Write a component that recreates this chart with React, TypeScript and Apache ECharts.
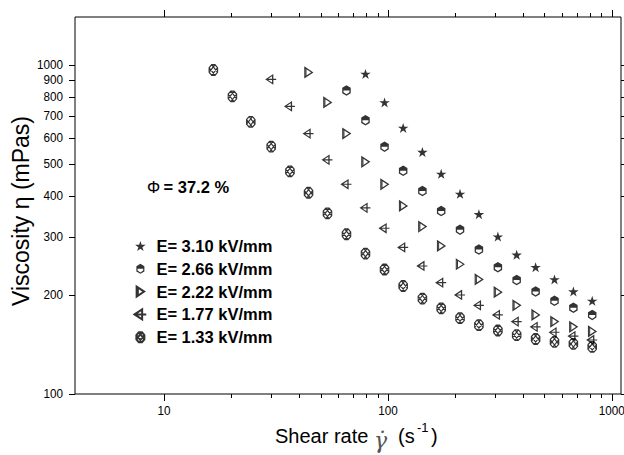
import React, { useEffect, useRef } from "react";
import * as echarts from "echarts";

// ---- data ----
const shearRate = [16.6, 20.2, 24.4, 30.1, 36.5, 44.2, 53.7, 65.3, 79.4, 96.6, 117, 142.6, 173, 210, 255, 310, 376, 457, 555, 674, 818];

const legendNames = ["E= 3.10 kV/mm", "E= 2.66 kV/mm", "E= 2.22 kV/mm", "E= 1.77 kV/mm", "E= 1.33 kV/mm"];

// viscosity (mPas), aligned to the END of shearRate
const eta310 = [940, 770, 644, 544, 467, 406, 352, 301, 265, 243, 223, 205, 192];
const eta266 = [837, 680, 565, 477, 414, 360, 316, 275, 243, 222, 205, 192, 183, 174];
const eta222 = [950, 770, 619, 508, 434, 373, 323, 282, 248, 223, 204, 186, 174, 166, 160, 155];
const eta177 = [905, 749, 619, 515, 434, 368, 319, 279, 245, 218, 200, 186, 174, 166, 160, 154, 150, 146];
const eta133 = [966, 803, 672, 565, 475, 409, 354, 306, 267, 239, 213, 195, 182, 170, 162, 156, 151, 147, 144, 142, 139];

const xMajorTicks = [10, 100, 1000];
const xMinorTicks = [20, 30, 40, 50, 60, 70, 80, 90, 200, 300, 400, 500, 600, 700, 800, 900];
const xTickLabels = ["10", "100", "1000"];
const yTicks = [100, 200, 300, 400, 500, 600, 700, 800, 900, 1000];
const yTickLabels = ["100", "200", "300", "400", "500", "600", "700", "800", "900", "1000"];

const X_MIN = 4;
const X_MAX = 1100;
const Y_MIN = 100;
const Y_MAX = 1400;

const FONT = "'Liberation Sans', Arial, sans-serif";

// ---- symbols ----
const STAR = "path://M50 0 L61.8 36.3 L100 36.3 L69.1 58.8 L80.9 95.1 L50 72.6 L19.1 95.1 L30.9 58.8 L0 36.3 L38.2 36.3 Z";
const HEX = "path://M40 0 L80 24 L80 76 L40 100 L0 76 L0 24 Z M12 50 L12 68 L40 86 L68 68 L68 50 Z";
const RTRI = "path://M0 0 L75 50 L0 100 Z M12 14 L12 86";
const LTRI = "path://M0 42.5 L65 0 L65 85 Z M0 42.5 L100 42.5";
const CROSS = "path://M24 0 L56 0 L80 28 L80 72 L56 100 L24 100 L0 72 L0 28 Z M0 28 L56 100 M24 0 L80 72 M80 28 L24 100 M56 0 L0 72";

const filled = { color: "#000", borderWidth: 0 };
const outline = { color: "rgba(255,255,255,0)", borderColor: "#000", borderWidth: 1.2 };

const seriesDefs = [
  { name: legendNames[0], values: eta310, symbol: STAR, size: [10.5, 10], style: filled },
  { name: legendNames[1], values: eta266, symbol: HEX, size: [8.5, 10.5], style: filled },
  { name: legendNames[2], values: eta222, symbol: RTRI, size: [7.5, 10], style: outline },
  { name: legendNames[3], values: eta177, symbol: LTRI, size: [10, 8.5], style: outline },
  { name: legendNames[4], values: eta133, symbol: CROSS, size: [8.5, 10.5], style: outline },
];

export default function App() {
  const ref = useRef<HTMLDivElement>(null);

  useEffect(() => {
    if (!ref.current) return;
    const chart = echarts.init(ref.current, null, { renderer: "svg" });

    const tickData = [
      ...xMajorTicks.map((v, i) => [v, Y_MIN, 0, i]),
      ...xMinorTicks.map((v) => [v, Y_MIN, 1, -1]),
      ...yTicks.map((v, i) => [X_MIN, v, 2, i]),
    ];

    const line = (x1: number, y1: number, x2: number, y2: number) => ({
      type: "line",
      shape: { x1, y1, x2, y2 },
      style: { stroke: "#000", lineWidth: 1 },
    });

    const renderTicks = (params: any, api: any) => {
      const kind = api.value(2);
      const idx = api.value(3);
      if (kind === 2) {
        const v = api.value(1);
        const l = api.coord([X_MIN, v]);
        const r = api.coord([X_MAX, v]);
        const y = Math.round(l[1]) + 0.5;
        return {
          type: "group",
          children: [
            line(l[0] - 6, y, l[0], y),
            line(r[0], y, r[0] + 5, y),
            {
              type: "text",
              x: l[0] - 12,
              y: l[1],
              scaleX: 0.9,
              style: {
                text: yTickLabels[idx],
                fill: "#000",
                fontSize: 13,
                fontFamily: FONT,
                align: "right",
                verticalAlign: "middle",
              },
            },
          ],
        };
      }
      const v = api.value(0);
      const b = api.coord([v, Y_MIN]);
      const t = api.coord([v, Y_MAX]);
      const x = Math.round(b[0]) + 0.5;
      const len = kind === 0 ? 7 : 4;
      const children: any[] = [line(x, b[1], x, b[1] + len), line(x, t[1] - len, x, t[1])];
      if (kind === 0) {
        children.push({
          type: "text",
          x: b[0],
          y: b[1] + 17,
          scaleX: 0.9,
          style: {
            text: xTickLabels[idx],
            fill: "#000",
            fontSize: 13,
            fontFamily: FONT,
            align: "center",
            verticalAlign: "middle",
          },
        });
      }
      return { type: "group", children };
    };

    const option: any = {
      animation: false,
      backgroundColor: "#fff",
      grid: {
        left: 75,
        right: 3,
        top: 17,
        bottom: 61,
        show: true,
        borderColor: "#000",
        borderWidth: 1,
        backgroundColor: "transparent",
      },
      xAxis: {
        type: "log",
        logBase: 10,
        min: X_MIN,
        max: X_MAX,
        axisLine: { show: false },
        axisTick: { show: false },
        axisLabel: { show: false },
        splitLine: { show: false },
      },
      yAxis: {
        type: "log",
        logBase: 10,
        min: Y_MIN,
        max: Y_MAX,
        axisLine: { show: false },
        axisTick: { show: false },
        axisLabel: { show: false },
        splitLine: { show: false },
      },
      legend: {
        orient: "vertical",
        left: 128.5,
        top: 232.5,
        itemWidth: 22,
        itemHeight: 10,
        itemGap: 5.8,
        selectedMode: false,
        data: legendNames,
        textStyle: { fontSize: 16.5, fontWeight: "bold", fontFamily: FONT, color: "#000" },
      },
      graphic: [
        {
          type: "text",
          left: 147,
          top: 178,
          style: {
            text: "{p|Φ} {b|= 37.2 %}",
            rich: {
              p: { fontSize: 16.5, fontFamily: FONT, fill: "#000", fontWeight: "normal" },
              b: { fontSize: 16.5, fontFamily: FONT, fill: "#000", fontWeight: "bold" },
            },
          },
        },
        {
          type: "text",
          x: 21,
          y: 211,
          rotation: Math.PI / 2,
          style: {
            text: "Viscosity η (mPas)",
            fontSize: 23,
            fontFamily: FONT,
            fill: "#000",
            align: "center",
            verticalAlign: "middle",
          },
        },
        {
          type: "text",
          x: 275,
          y: 436,
          style: { text: "Shear rate", fontSize: 20, fontFamily: FONT, fill: "#000", align: "left", verticalAlign: "middle" },
        },
        {
          type: "text",
          x: 374,
          y: 440,
          style: {
            text: "γ̇",
            fontSize: 22,
            fontFamily: "'DejaVu Serif', serif",
            fontStyle: "italic",
            fill: "#555",
            align: "left",
            verticalAlign: "middle",
          },
        },
        {
          type: "text",
          x: 398,
          y: 436,
          style: { text: "(s", fontSize: 20, fontFamily: FONT, fill: "#000", align: "left", verticalAlign: "middle" },
        },
        {
          type: "text",
          x: 417,
          y: 427,
          style: { text: "-1", fontSize: 13, fontFamily: FONT, fill: "#000", align: "left", verticalAlign: "middle" },
        },
        {
          type: "text",
          x: 431,
          y: 436,
          style: { text: ")", fontSize: 20, fontFamily: FONT, fill: "#000", align: "left", verticalAlign: "middle" },
        },
      ],
      series: [
        ...seriesDefs.map((s) => ({
          name: s.name,
          type: "scatter",
          symbol: s.symbol,
          symbolSize: s.size,
          itemStyle: s.style,
          data: s.values.map((v, i) => [shearRate[shearRate.length - s.values.length + i], v]),
          z: 3,
        })),
        {
          type: "custom",
          name: "ticks",
          silent: true,
          clip: false,
          z: 5,
          renderItem: renderTicks,
          data: tickData,
        },
      ],
    };

    chart.setOption(option);
    return () => chart.dispose();
  }, []);

  return (
    <div
      ref={ref}
      style={{ position: "fixed", left: 0, top: 0, width: 624, height: 455, background: "#fff" }}
    />
  );
}
